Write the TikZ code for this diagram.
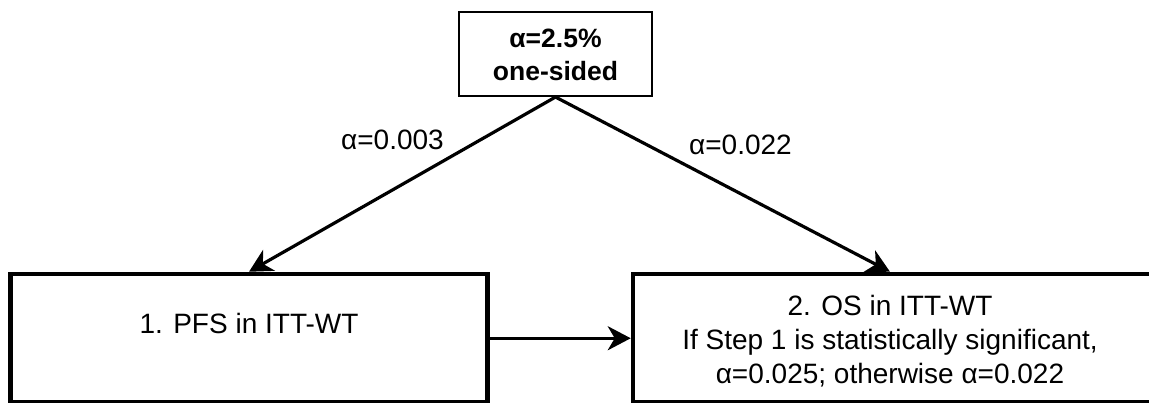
\documentclass[tikz,border=0pt]{standalone}
\usepackage{fontspec}
\setmainfont{Liberation Sans}
\usetikzlibrary{arrows.meta}
\begin{document}
\begin{tikzpicture}[x=1pt,y=-1pt,
  stepbox/.style={draw, line width=4.5pt, inner sep=0pt},
  topbox/.style={draw, line width=2pt, inner sep=0pt},
  txt/.style={font=\fontsize{28}{34}\selectfont, align=center, inner sep=0pt},
  conn/.style={line width=3.2pt, -{Stealth[length=23pt,width=24pt,inset=7pt]}}]
\clip (0,0) rectangle (1149,403);
\fill[white] (0,0) rectangle (1149,403);
% boxes
\node[topbox, minimum width=193.6pt, minimum height=83.7pt] (top) at (555.5,54.2) {};
\node[stepbox, minimum width=477pt, minimum height=128.5pt] (pfs) at (249,338.25) {};
\node[stepbox, minimum width=527pt, minimum height=128.5pt] (os) at (896.5,338.25) {};
% texts
\node[txt, font=\fontsize{26.5}{33}\selectfont\bfseries, anchor=north] (toptext) at (555.5,29) {α=2.5\%\\one-sided};
\node[txt, anchor=north] (pfstext) at (249,313) {1. PFS in ITT-WT};
\node[txt, anchor=north] (ostext) at (890,295) {2. OS in ITT-WT\\If Step 1 is statistically significant,\\α=0.025; otherwise α=0.022};
% labels
\node[txt, anchor=base] (la) at (392.5,150) {α=0.003};
\node[txt, anchor=base] (lb) at (740.5,155) {α=0.022};
% connectors
\draw[conn] (top.south) -- (pfs.north);
\draw[conn] (top.south) -- (ostext.north |- os.north);
\draw[conn] (pfs.east) -- (os.west);
\end{tikzpicture}
\end{document}
